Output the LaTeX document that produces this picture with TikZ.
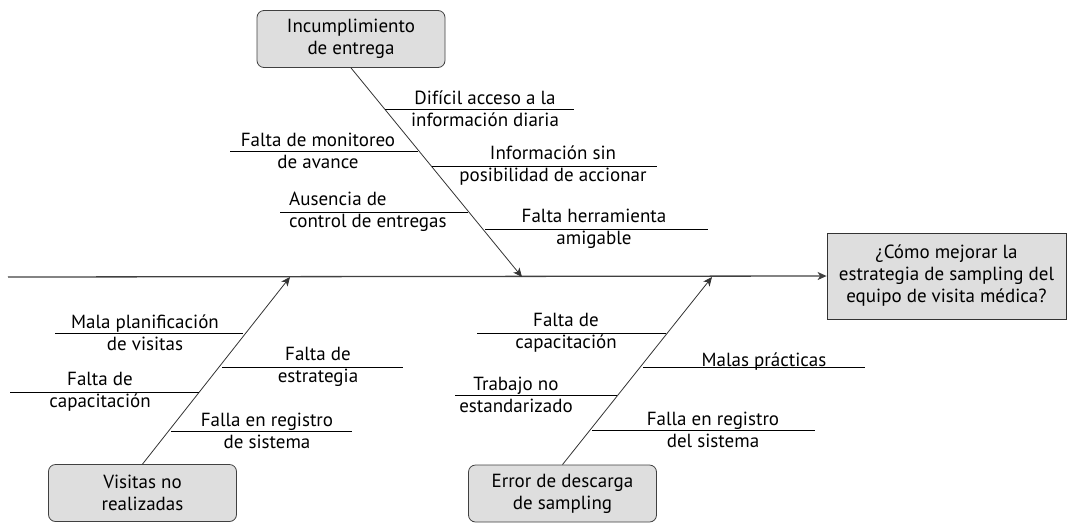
\documentclass[tikz,border=0pt]{standalone}
\usepackage{fontspec}
\setmainfont{PT Sans}
\usepackage{tikz}
\usetikzlibrary{arrows.meta}

\begin{document}
\begin{tikzpicture}[x=1pt, y=-1pt,
        every node/.style={font=\fontsize{19}{22}\selectfont, align=center, inner sep=0pt},
        causebox/.style={draw=black!75, fill=black!13, rounded corners=7pt, minimum width=188pt, minimum height=57pt, line width=0.8pt},
        goalbox/.style={draw=black!80, fill=black!13, minimum width=239pt, minimum height=86pt, line width=0.8pt},
        spine/.style={draw=black!75, line width=1.3pt, -{Stealth[length=9pt, width=8pt, inset=2.5pt]}},
        bone/.style={draw=black!80, line width=0.8pt, -{Stealth[length=9pt, width=8pt, inset=2.5pt]}},
        twig/.style={draw=black, line width=0.8pt}]
    \useasboundingbox (0,0) rectangle (1068,523);

    % effect and main causes
    \node[goalbox] (goal) at (946.5,276) {¿Cómo mejorar la\\estrategia de sampling del\\equipo de visita médica?};
    \node[causebox] (entrega) at (351,39) {Incumplimiento\\de entrega};
    \node[causebox] (visitas) at (142.5,493) {Visitas no\\realizadas};
    \node[causebox] (descarga) at (562.5,493.5) {Error de descarga\\de sampling};

    \coordinate (tail) at (8,277);
    \coordinate (jentrega) at (522,277);
    \coordinate (jvisitas) at (290,277);
    \coordinate (jdescarga) at (712,277);

    \draw[spine] (tail) -- (goal.west);
    \draw[bone] (entrega.south) -- (jentrega);
    \draw[bone] (visitas.north) -- (jvisitas);
    \draw[bone] (descarga.north) -- (jdescarga);

    % incumplimiento de entrega
    \draw[twig] (385,109) -- (574,109);
    \node (acceso) at (485,109) {Difícil acceso a la\\información diaria};
    \draw[twig] (230,151) -- (418,151);
    \node (monitoreo) at (318,151) {Falta de monitoreo\\de avance};
    \draw[twig] (432,166) -- (657,166);
    \node (accionar) at (553,166) {Información sin\\posibilidad de accionar};
    \draw[twig] (280,212) -- (468,212);
    \node[align=left, anchor=west] (control) at (289,212) {Ausencia de\\control de entregas};
    \draw[twig] (485,229) -- (708,229);
    \node (herramienta) at (594,229) {Falta herramienta\\amigable};

    % visitas no realizadas
    \draw[twig] (55,333) -- (243,333);
    \node (planificacion) at (145,333) {Mala planificación\\de visitas};
    \draw[twig] (222,367) -- (403,367);
    \node (estrategia) at (318,367) {Falta de\\estrategia};
    \draw[twig] (10,392) -- (199,392);
    \node (capvisitas) at (100,392) {Falta de\\capacitación};
    \draw[twig] (171,431) -- (352,431);
    \node (regvisitas) at (267,431) {Falla en registro\\de sistema};

    % error de descarga
    \draw[twig] (477,333) -- (666,333);
    \node (capdescarga) at (566,333) {Falta de\\capacitación};
    \draw[twig] (643,367) -- (865,367);
    \node[anchor=south, yshift=-3pt] (practicas) at (764,367) {Malas prácticas};
    \draw[twig] (455,395) -- (617,395);
    \node (estandar) at (516,395) {Trabajo no\\estandarizado};
    \draw[twig] (592,430) -- (815,430);
    \node (regdescarga) at (713,430) {Falla en registro\\del sistema};
\end{tikzpicture}
\end{document}
